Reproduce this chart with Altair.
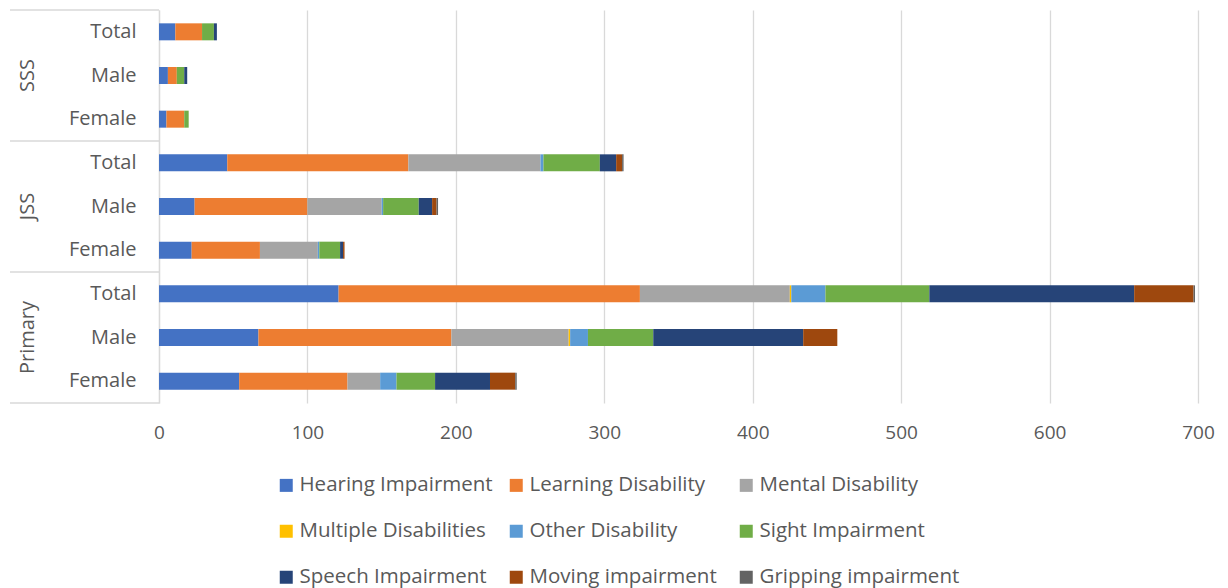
import altair as alt
import pandas as pd

disabilities = [
    "Hearing Impairment", "Learning Disability", "Mental Disability",
    "Multiple Disabilities", "Other Disability", "Sight Impairment",
    "Speech Impairment", "Moving impairment", "Gripping impairment",
]
colors = ["#4472C4", "#ED7D31", "#A5A5A5", "#FFC000", "#5B9BD5",
          "#70AD47", "#264478", "#9E480E", "#636363"]

groups = ["SSS", "JSS", "Primary"]
sexes = ["Total", "Male", "Female"]

sss_total = [11, 18, 0, 0, 0, 8, 2, 0, 0]
sss_male = [6, 6, 0, 0, 0, 5, 2, 0, 0]
sss_female = [5, 12, 0, 0, 0, 3, 0, 0, 0]
jss_total = [46, 122, 89, 0, 2, 38, 11, 4, 1]
jss_male = [24, 76, 50, 0, 1, 24, 9, 3, 1]
jss_female = [22, 46, 39, 0, 1, 14, 2, 1, 0]
primary_total = [121, 203, 101, 1, 23, 70, 138, 40, 1]
primary_male = [67, 130, 79, 1, 12, 44, 101, 23, 0]
primary_female = [54, 73, 22, 0, 11, 26, 37, 17, 1]

series = {
    "SSS|Total": sss_total, "SSS|Male": sss_male, "SSS|Female": sss_female,
    "JSS|Total": jss_total, "JSS|Male": jss_male, "JSS|Female": jss_female,
    "Primary|Total": primary_total, "Primary|Male": primary_male,
    "Primary|Female": primary_female,
}
x_ticks = [0, 100, 200, 300, 400, 500, 600, 700]

keys = [f"{g}|{s}" for g in groups for s in sexes]
rows = []
for k in keys:
    for i, (d, v) in enumerate(zip(disabilities, series[k])):
        if v > 0:
            rows.append(dict(key=k, disability=d, order=i, value=v))
df = pd.DataFrame(rows)

FONT = "Open Sans"
GREY = "#595959"
LINE = "#D9D9D9"

yscale = alt.Scale(domain=keys, paddingInner=0, paddingOuter=0)
yaxis = alt.Axis(title=None, labelExpr="split(datum.label, '|')[1]",
                 ticks=False, domain=True, domainColor=LINE, domainWidth=1.3,
                 labelPadding=23, grid=False, labelFontSize=20,
                 labelColor=GREY, labelFont=FONT)


def ypos(**kw):
    return alt.Y("key:N", scale=yscale, sort=keys, axis=yaxis, **kw)


bars = alt.Chart(df).mark_bar(size=17).encode(
    x=alt.X(
        "value:Q", stack="zero",
        scale=alt.Scale(domain=[0, 700], nice=False),
        axis=alt.Axis(values=x_ticks, title=None, domain=False, ticks=False,
                      grid=True, gridColor=LINE, gridWidth=1.3, labelPadding=20,
                      labelFlush=False, labelFontSize=19, labelColor=GREY,
                      labelFont=FONT),
    ),
    y=ypos(),
    color=alt.Color(
        "disability:N",
        scale=alt.Scale(domain=disabilities, range=colors),
        legend=alt.Legend(
            title=None, orient="none", legendX=117, legendY=465, columns=3,
            direction="horizontal", gridAlign="all", symbolType="square",
            symbolSize=169, symbolStrokeWidth=0, labelFontSize=20.5,
            labelColor=GREY, labelFont=FONT, labelOffset=3, columnPadding=6,
            rowPadding=25, padding=0, labelLimit=400,
        ),
    ),
    order=alt.Order("order:Q"),
)

group_df = pd.DataFrame({"key": [f"{g}|Male" for g in groups], "group": groups})
group_labels = alt.Chart(group_df).mark_text(
    angle=270, align="center", baseline="middle", fontSize=20,
    color=GREY, font=FONT,
).encode(
    y=ypos(),
    x=alt.value(-131),
    text="group:N",
)

top_df = pd.DataFrame({"key": [f"{g}|Total" for g in groups]})
top_rules = alt.Chart(top_df).mark_rule(color=LINE, strokeWidth=1.3).encode(
    y=ypos(bandPosition=0),
    x=alt.value(-149), x2=alt.value(0),
)
bottom_df = pd.DataFrame({"key": [keys[-1]]})
bottom_rule = alt.Chart(bottom_df).mark_rule(color=LINE, strokeWidth=1.3).encode(
    y=ypos(bandPosition=1),
    x=alt.value(-149), x2=alt.value(0),
)

chart = alt.layer(bars, top_rules, bottom_rule, group_labels).properties(
    width=1039, height=393,
    padding={"left": 151, "top": 2, "right": 22, "bottom": 185},
    autosize=alt.AutoSizeParams(type="none"),
).configure_view(stroke=None)

chart.save("out.html", embed_options={"renderer": "svg", "actions": False})
